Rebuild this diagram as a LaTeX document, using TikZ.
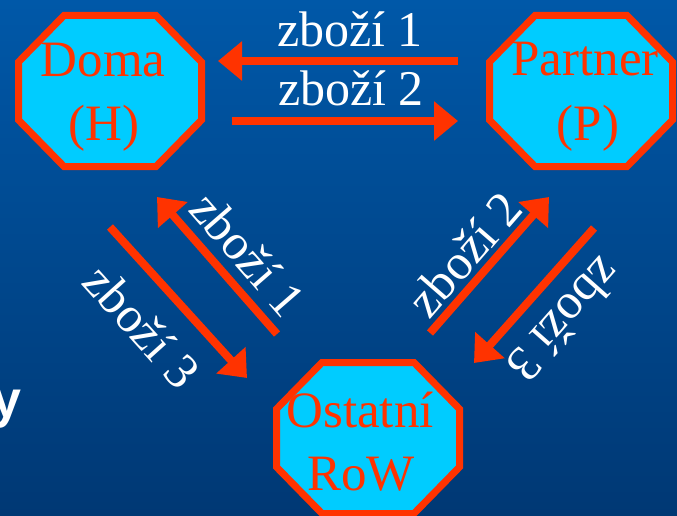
\documentclass[tikz,border=0pt]{standalone}
\usepackage{fontspec}
\setmainfont{Liberation Serif}
\newfontfamily\ysans{Liberation Sans}
\usetikzlibrary{arrows.meta}
\definecolor{bgtop}{RGB}{0,88,168}
\definecolor{bgbot}{RGB}{0,56,116}
\definecolor{redor}{RGB}{255,51,0}
\definecolor{cyanf}{RGB}{0,204,255}
\begin{document}
\begin{tikzpicture}[x=1pt,y=-1pt,
  arr/.style={draw=redor, line width=8pt, -{Triangle[length=24pt,width=38pt]}},
  lbl/.style={text=white, font=\fontsize{50}{60}\selectfont, inner sep=0pt},
  octtxt/.style={text=redor, font=\fontsize{51}{60}\selectfont, inner sep=0pt, anchor=base},
  octfill/.style={fill=cyanf},
  octline/.style={draw=redor, line width=7pt, line join=miter}]
\shade[top color=bgtop,bottom color=bgbot] (0,0) rectangle (677,516);
\useasboundingbox (0,0) rectangle (677,516);
% octagon fills
\foreach \c in {(110,91),(581,91),(368,438)}
  \fill[octfill, shift={\c}] (-46,-75.5) -- (46,-75.5) -- (91.5,-29) -- (91.5,29) -- (46,75.5) -- (-46,75.5) -- (-91.5,29) -- (-91.5,-29) -- cycle;
% octagon texts
\node[octtxt] (doma) at (103,77) {Doma};
\node[octtxt] (h) at (104,140) {(H)};
\node[octtxt] (partner) at (585,76) {Partner};
\node[octtxt] (p) at (588,140) {(P)};
\node[octtxt] (ostatni) at (360,427) {Ostatní};
\node[octtxt] (row) at (361,490) {RoW};
% octagon borders
\foreach \c in {(110,91),(581,91),(368,438)}
  \draw[octline, shift={\c}] (-46,-75.5) -- (46,-75.5) -- (91.5,-29) -- (91.5,29) -- (46,75.5) -- (-46,75.5) -- (-91.5,29) -- (-91.5,-29) -- cycle;
% arrows
\coordinate (a1s) at (458,61);  \coordinate (a1e) at (218,61);
\coordinate (a2s) at (232,121); \coordinate (a2e) at (458,121);
\coordinate (a3s) at (277,334); \coordinate (a3e) at (157,197);
\coordinate (a4s) at (110,227); \coordinate (a4e) at (247,378);
\coordinate (a5s) at (430,333); \coordinate (a5e) at (549,197);
\coordinate (a6s) at (594,228); \coordinate (a6e) at (474,363);
\draw[arr] (a1s) -- (a1e);
\draw[arr] (a2s) -- (a2e);
\draw[arr] (a3s) -- (a3e);
\draw[arr] (a4s) -- (a4e);
\draw[arr] (a5s) -- (a5e);
\draw[arr] (a6s) -- (a6e);
% labels
\node[lbl, anchor=base] (l1) at (350,47) {zboží 1};
\node[lbl, anchor=base] (l2) at (351,106) {zboží 2};
\node[lbl, rotate=-49] (l3) at (248,254) {zboží 1};
\node[lbl, rotate=-48] (l4) at (142,326) {zboží 3};
\node[lbl, rotate=49] (l5) at (464,254) {zboží 2};
\node[lbl, rotate=-131.5] (l6) at (565,320) {zboží 3};
\node[text=white, font=\ysans\bfseries\fontsize{52}{60}\selectfont, inner sep=0pt, anchor=base east] (y) at (22,417) {y};
\end{tikzpicture}
\end{document}
